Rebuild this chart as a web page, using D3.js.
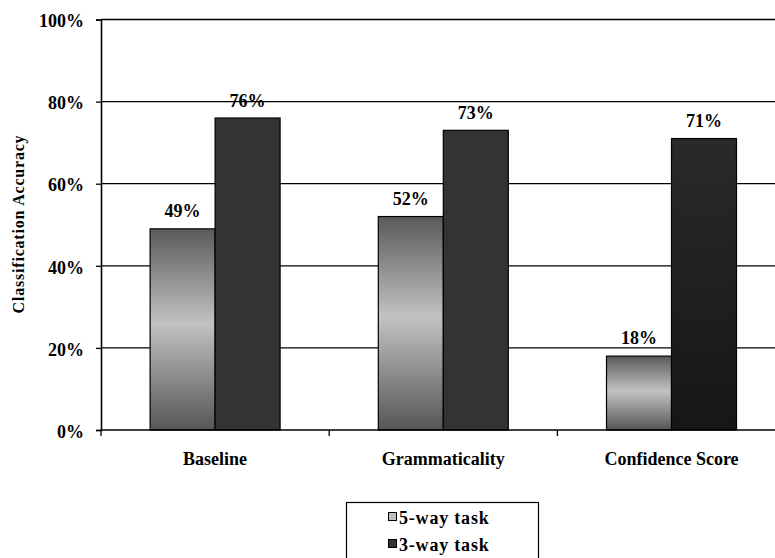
<!DOCTYPE html>
<html>
<head>
<meta charset="utf-8">
<script src="https://cdn.jsdelivr.net/npm/d3@7"></script>
<style>
  html, body { margin: 0; padding: 0; background: #fff; overflow: hidden; }
  svg { display: block; font-family: "Liberation Serif", "Times New Roman", serif; font-weight: bold; }
</style>
</head>
<body>
<svg id="chart" width="775" height="558"></svg>
<script>
// Classification accuracy per feature set, for the two task variants
const categories = ["Baseline", "Grammaticality", "Confidence Score"];
const seriesNames = ["5-way task", "3-way task"];
const fiveWay = [49, 52, 18];
const threeWay = [76, 73, 71];
const yTicks = [0, 20, 40, 60, 80, 100];

const svg = d3.select("#chart");

const plot = { left: 101, right: 785.6, top: 19.5, bottom: 430 };

const x = d3.scaleBand().domain(categories).range([plot.left, plot.right]).padding(0);
const barW = 65;
const xs = d3.scaleBand().domain(seriesNames)
  .range([x.bandwidth() / 2 - barW, x.bandwidth() / 2 + barW]).padding(0);
const y = d3.scaleLinear().domain([0, 100]).range([plot.bottom, plot.top]);

// Vertical shaded fill: dark at the ends, light through the middle
const defs = svg.append("defs");
const grad = defs.append("linearGradient").attr("id", "shade5")
  .attr("x1", 0).attr("y1", 0).attr("x2", 0).attr("y2", 1);
[[0, "#5a5a5a"], [0.47, "#c2c2c2"], [1, "#565656"]].forEach(([o, c]) =>
  grad.append("stop").attr("offset", o).attr("stop-color", c));
const grad3 = defs.append("linearGradient").attr("id", "shade3dark")
  .attr("x1", 0).attr("y1", 0).attr("x2", 0).attr("y2", 1);
[[0, "#2a2a2a"], [1, "#161616"]].forEach(([o, c]) =>
  grad3.append("stop").attr("offset", o).attr("stop-color", c));

const fiveFill = () => "url(#shade5)";
const threeFill = i => i === 2 ? "url(#shade3dark)" : "#333333";

// Horizontal gridlines
svg.append("g").selectAll("line").data(yTicks.filter(t => t > 0)).join("line")
  .attr("x1", plot.left).attr("x2", plot.right)
  .attr("y1", d => y(d)).attr("y2", d => y(d))
  .attr("stroke", "#000").attr("stroke-width", 1.3);

// Y axis
const yAxis = d3.axisLeft(y).tickValues(yTicks).tickFormat(d => d + "%").tickSize(5).tickPadding(12);
const gy = svg.append("g").attr("transform", `translate(${plot.left},0)`).call(yAxis);
gy.select(".domain").attr("stroke", "#000").attr("stroke-width", 1.6);
gy.selectAll(".tick line").attr("stroke", "#000").attr("stroke-width", 1.3);
gy.selectAll(".tick text").attr("font-size", 18).attr("font-family", "Liberation Serif")
  .attr("font-weight", "bold").attr("fill", "#000").attr("dy", "0.4em");

// Bars
const groups = svg.append("g").selectAll("g").data(categories).join("g")
  .attr("transform", d => `translate(${x(d)},0)`);

groups.append("rect")
  .attr("x", xs("5-way task")).attr("width", xs.bandwidth())
  .attr("y", (d, i) => y(fiveWay[i])).attr("height", (d, i) => y(0) - y(fiveWay[i]))
  .attr("fill", fiveFill).attr("stroke", "#000").attr("stroke-width", 1.2);

groups.append("rect")
  .attr("x", xs("3-way task")).attr("width", xs.bandwidth())
  .attr("y", (d, i) => y(threeWay[i])).attr("height", (d, i) => y(0) - y(threeWay[i]))
  .attr("fill", (d, i) => threeFill(i)).attr("stroke", "#000").attr("stroke-width", 1.2);

// Value labels
groups.append("text")
  .attr("x", xs("5-way task") + xs.bandwidth() / 2)
  .attr("y", (d, i) => y(fiveWay[i]) - 12)
  .attr("text-anchor", "middle").attr("font-size", 18)
  .text((d, i) => fiveWay[i] + "%");
groups.append("text")
  .attr("x", xs("3-way task") + xs.bandwidth() / 2)
  .attr("y", (d, i) => y(threeWay[i]) - 11.5)
  .attr("text-anchor", "middle").attr("font-size", 18)
  .text((d, i) => threeWay[i] + "%");

// X axis with ticks on category boundaries
const xAxis = svg.append("g");
xAxis.append("line").attr("x1", plot.left).attr("x2", plot.right)
  .attr("y1", plot.bottom).attr("y2", plot.bottom).attr("stroke", "#000").attr("stroke-width", 1.6);
xAxis.selectAll("line.tick").data(categories).join("line").attr("class", "tick")
  .attr("x1", d => x(d)).attr("x2", d => x(d))
  .attr("y1", plot.bottom).attr("y2", plot.bottom + 6)
  .attr("stroke", "#000").attr("stroke-width", 1.3);
xAxis.selectAll("text").data(categories).join("text")
  .attr("x", d => x(d) + x.bandwidth() / 2).attr("y", 465)
  .attr("text-anchor", "middle").attr("font-size", 18)
  .text(d => d);

// Y axis title
svg.append("text")
  .attr("transform", "translate(24,224) rotate(-90)")
  .attr("text-anchor", "middle").attr("font-size", 16).attr("letter-spacing", 0.8)
  .text("Classification Accuracy");

// Legend
const legend = svg.append("g");
legend.append("rect").attr("x", 346.5).attr("y", 502.5).attr("width", 192).attr("height", 60)
  .attr("fill", "#fff").attr("stroke", "#000").attr("stroke-width", 1.2);
const legendFills = ["#c0c0c0", "#333333"];
const li = legend.selectAll("g").data(seriesNames).join("g")
  .attr("transform", (d, i) => `translate(388,${524 + i * 27})`);
li.append("rect").attr("x", 0.5).attr("y", -11.5).attr("width", 8).attr("height", 8)
  .attr("fill", (d, i) => legendFills[i]).attr("stroke", "#000").attr("stroke-width", 1);
li.append("text").attr("x", 11).attr("y", 0).attr("font-size", 18).attr("letter-spacing", 0.8)
  .text(d => d);
</script>
</body>
</html>
